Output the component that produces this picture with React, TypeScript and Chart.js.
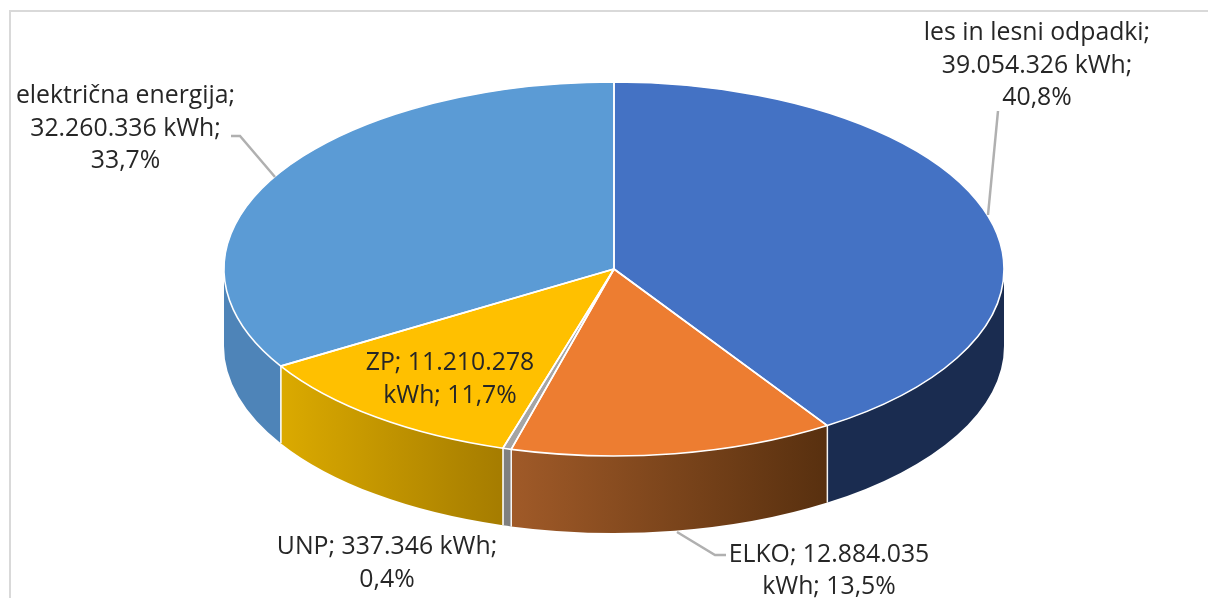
import React, { useEffect, useRef } from "react";
import { Chart, registerables } from "chart.js";

Chart.register(...registerables);

const categories = ["les in lesni odpadki", "ELKO", "UNP", "ZP", "električna energija"];
const valuesKwh = [39054326, 12884035, 337346, 11210278, 32260336];
const topColors = ["#4472c4", "#ed7d31", "#a5a5a5", "#ffc000", "#5b9bd5"];
const sideColorsFrom = ["#1a2c50", "#a05a28", "#7f7f7f", "#dbaa00", "#4e84b8"];
const sideColorsTo = ["#1a2c50", "#58300f", "#7f7f7f", "#a57c00", "#4e84b8"];
const labelLines = [
  ["les in lesni odpadki;", "39.054.326 kWh;", "40,8%"],
  ["ELKO; 12.884.035", "kWh; 13,5%"],
  ["UNP; 337.346 kWh;", "0,4%"],
  ["ZP; 11.210.278", "kWh; 11,7%"],
  ["električna energija;", "32.260.336 kWh;", "33,7%"],
];

const W = 1208;
const H = 598;
const CX = 614;
const CY = 269;
const RX = 390;
const RY = 187;
const DEPTH = 77;
const SQUASH = RY / RX;

const labelAnchors = [
  { x: 1037, y: [39.5, 72.5, 105] },
  { x: 829, y: [562, 594] },
  { x: 387, y: [554, 587] },
  { x: 450, y: [370, 403] },
  { x: 125.5, y: [103, 136, 168] },
];
const leaders = [
  [[998, 111], [988, 215]],
  [[677, 532], [715, 555], [726, 555]],
  [[231, 136], [240, 136], [275, 177]],
];

const pie3d = {
  id: "pie3d",
  beforeDatasetsDraw(chart: any) {
    const ctx = chart.ctx;
    const arcs = chart.getDatasetMeta(0).data;
    ctx.save();
    ctx.fillStyle = "#ffffff";
    ctx.fillRect(0, 0, W, H);
    ctx.strokeStyle = "#d9d9d9";
    ctx.lineWidth = 2;
    ctx.beginPath();
    ctx.moveTo(10, H);
    ctx.lineTo(10, 11);
    ctx.lineTo(W, 11);
    ctx.stroke();

    // Side wall of every slice that faces the viewer.
    arcs.forEach((arc: any, i: number) => {
      const start = Math.max(arc.startAngle, 0);
      const end = Math.min(arc.endAngle, Math.PI);
      if (end <= start) return;
      const xA = arc.x + RX * Math.cos(end);
      const xB = arc.x + RX * Math.cos(start);
      const grad = ctx.createLinearGradient(xA, 0, xB, 0);
      grad.addColorStop(0, sideColorsFrom[i]);
      grad.addColorStop(1, sideColorsTo[i]);
      ctx.fillStyle = grad;
      ctx.beginPath();
      ctx.ellipse(arc.x, arc.y, RX, RY, 0, start, end, false);
      ctx.ellipse(arc.x, arc.y + DEPTH, RX, RY, 0, end, start, true);
      ctx.closePath();
      ctx.fill();
      // Vertical seams between walls.
      ctx.strokeStyle = "rgba(255,255,255,0.85)";
      ctx.lineWidth = 1.5;
      [arc.startAngle, arc.endAngle].forEach((a: number) => {
        if (Math.sin(a) > 0.01) {
          const x = arc.x + RX * Math.cos(a);
          const y = arc.y + RY * Math.sin(a);
          ctx.beginPath();
          ctx.moveTo(x, y);
          ctx.lineTo(x, y + DEPTH);
          ctx.stroke();
        }
      });
    });
    ctx.restore();

    // Tilt the flat pie that the library draws next.
    ctx.save();
    ctx.translate(CX, CY);
    ctx.scale(1, SQUASH);
    ctx.translate(-CX, -CY);
  },
  afterDatasetsDraw(chart: any) {
    const ctx = chart.ctx;
    ctx.restore();
    const arcs = chart.getDatasetMeta(0).data;
    ctx.save();
    ctx.strokeStyle = "#ffffff";
    ctx.lineWidth = 1.6;
    ctx.lineJoin = "round";
    arcs.forEach((arc: any) => {
      ctx.beginPath();
      ctx.moveTo(arc.x, arc.y);
      ctx.ellipse(arc.x, arc.y, RX, RY, 0, arc.startAngle, arc.endAngle, false);
      ctx.closePath();
      ctx.stroke();
    });

    ctx.strokeStyle = "#b0b0b0";
    ctx.lineWidth = 2.5;
    ctx.lineJoin = "miter";
    leaders.forEach((pts) => {
      ctx.beginPath();
      pts.forEach(([x, y], k) => (k === 0 ? ctx.moveTo(x, y) : ctx.lineTo(x, y)));
      ctx.stroke();
    });

    ctx.fillStyle = "#262626";
    ctx.font = '24.8px "Open Sans", "Noto Sans", sans-serif';
    ctx.textAlign = "center";
    ctx.textBaseline = "alphabetic";
    labelLines.forEach((lines, i) => {
      lines.forEach((line, k) => {
        ctx.fillText(line, labelAnchors[i].x, labelAnchors[i].y[k]);
      });
    });
    ctx.restore();
  },
};

export default function App() {
  const ref = useRef<HTMLCanvasElement | null>(null);
  useEffect(() => {
    const chart = new Chart(ref.current as HTMLCanvasElement, {
      type: "pie",
      data: {
        labels: categories,
        datasets: [
          {
            data: valuesKwh,
            backgroundColor: topColors,
            borderWidth: 0,
            clip: false,
          } as any,
        ],
      },
      options: {
        responsive: false,
        animation: false,
        radius: RX,
        events: [],
        layout: { padding: { left: 2 * CX - W, right: 0, top: 0, bottom: H - 2 * CY } },
        plugins: { legend: { display: false }, tooltip: { enabled: false }, title: { display: false } },
      } as any,
      plugins: [pie3d],
    });
    return () => chart.destroy();
  }, []);
  return (
    <div style={{ position: "absolute", left: 0, top: 0, width: W, height: H, overflow: "hidden", background: "#fff" }}>
      <canvas ref={ref} width={W} height={H} style={{ display: "block" }} />
    </div>
  );
}
